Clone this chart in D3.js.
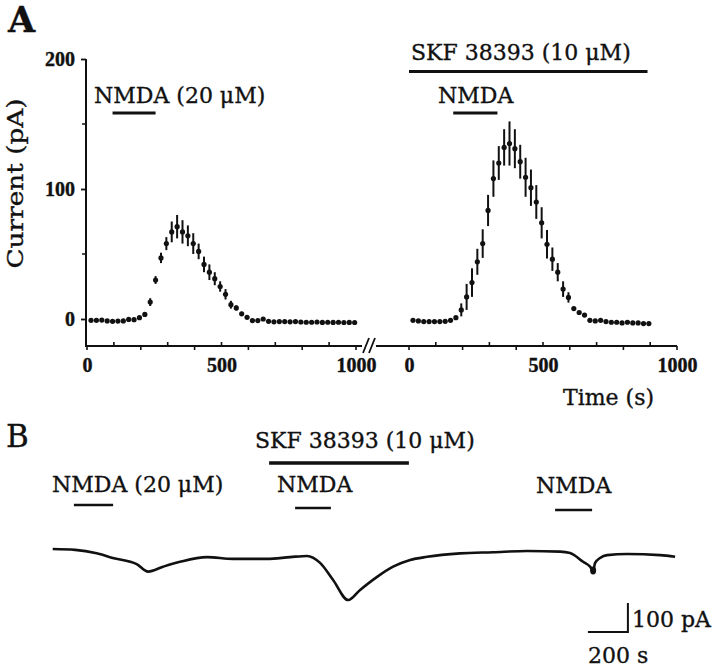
<!DOCTYPE html>
<html><head><meta charset="utf-8">
<script src="https://cdn.jsdelivr.net/npm/d3@7"></script>
<style>
body{margin:0;background:#fff}
text{font-family:"DejaVu Serif",serif;fill:#111;stroke:#111;stroke-width:0.35px}
text.tk{font-family:"Liberation Serif",serif;font-weight:bold;stroke-width:0.4px}
</style>
</head><body>
<svg id="chart" width="720" height="670"></svg>
<script>
// ---------- Panel A data (time s, current pA, SEM pA) ----------
const leftTime = [15,35,55,75,95,115,135,155,175,195,215,235,255,275,295,315,335,355,375,395,415,435,455,475,495,515,535,555,575,595,615,635,655,675,695,715,735,755,775,795,815,835,855,875,895,915,935,955,975,995];
const leftCurrent = [-1,-1,-0.8,-1.5,-1.8,-1.6,-1.5,-0.3,-0.5,1,3.5,13,30,47,58,67,71,67,64,58,52,42,36,31,25,19,11,8.5,4,1.3,-1.2,-1.2,0,-1.8,-2.2,-2,-2,-2.2,-2,-2.3,-2.5,-2.5,-2.3,-2.6,-2.5,-2.6,-2.5,-2.7,-2.6,-2.7];
const leftSEM = [0,0,0,0,0,0,0,0,0,0,1.5,3,3,4,5,8,9,9,8,8,6,6,6,5,4,4,3,2,1.5,0,0,0,0,0,0,0,0,0,0,0,0,0,0,0,0,0,0,0,0,0];

const rightTime = [15,35,55,75,95,115,135,155,175,195,215,235,255,275,295,315,335,355,375,395,415,435,455,475,495,515,535,555,575,595,615,635,655,675,695,715,735,755,775,795,815,835,855,875,895];
const rightCurrent = [-1,-1.5,-2,-2,-2,-2,-1.8,-1,1,7,17,28,44,58,83.5,108,120,132,135,131,121,109,101,90,74,57.5,46,36,23,16.6,8,5,3,-1,-1.5,-1,-2,-2.5,-2.5,-3,-2.5,-3,-3,-3.5,-3.5];
const rightSEM = [0,0,0,0,0,0,0,0,0,5,10,11,10,11,12,14,13,14,17,15,13,15,14,13,12,11,9,7,6,4,1.5,0,0,0,0,0,0,0,0,0,0,0,0,0,0];

const xTickValues = [0,100,200,300,400,500,600,700,800,900,1000];
const xTickLabels = [0,500,1000];
const yTickValues = [0,100,200];
const yMinorTicks = [50,150];

// drug application bars, panel A (s)
const nmdaBarLeft = [95,255];
const skfBarRight = [0,890];
const nmdaBarRight = [165,330];

// ---------- Panel B trace (time s, current pA) ----------
const traceTime = [0,112,220,300,420,477,552,637,772,902,1072,1187,1272,1337,1402,1477,1537,1622,1702,1787,1872,2037,2202,2372,2537,2587,2652,2687,2702,2712,2737,2772,2872,3037,3112];
const traceCurrent = [0,-3,-15,-31,-52,-78,-61,-44,-28,-34,-34,-28,-24,-48,-107,-176,-141,-96,-61,-38,-27,-15,-11,-7,-9,-14,-44,-61,-76,-48,-31,-21,-17,-21,-27];
const artifact = {t:2702, i:-74};
// application bars, panel B (s)
const nmdaBarsB = [[106,302],[1212,1391],[2512,2697]];
const skfBarB = [1082,1781];
// scale bar
const scaleBarTime = [2676,2876];   // 200 s
const scaleBarCurrent = [-186,-286]; // 100 pA

const svg = d3.select("#chart");
const ink = "#111";

// ---------- scales ----------
const xL = d3.scaleLinear().domain([0,1000]).range([87,356]);
const xR = d3.scaleLinear().domain([0,1000]).range([409,677]);
const y = d3.scaleLinear().domain([0,200]).range([319,59]);
const axisYpx = 346;

// ---------- Panel A ----------
const gA = svg.append("g");
gA.append("text").attr("x",8).attr("y",32).attr("font-size",35).attr("font-weight","bold").text("A");

// y axis
const yAxis = d3.axisLeft(y).tickValues(yTickValues).tickSize(5).tickPadding(6).tickFormat(d3.format("d"));
const gy = gA.append("g").attr("transform","translate(86,0)").call(yAxis);
gy.select(".domain").remove();
gy.selectAll(".tick line").attr("stroke",ink).attr("stroke-width",1.8);
gy.selectAll(".tick text").attr("class","tk").attr("font-size",20).attr("fill",ink);
gA.append("line").attr("x1",86).attr("x2",86).attr("y1",y(200)).attr("y2",axisYpx+1).attr("stroke",ink).attr("stroke-width",2);
gA.selectAll(".yminor").data(yMinorTicks).enter().append("line")
  .attr("x1",86).attr("x2",82).attr("y1",d=>y(d)).attr("y2",d=>y(d)).attr("stroke",ink).attr("stroke-width",1.5);

gA.append("text").attr("transform",`translate(23,${(97+270)/2}) rotate(-90)`)
  .attr("text-anchor","middle").attr("font-size",22)
  .attr("textLength",170).attr("lengthAdjust","spacingAndGlyphs").text("Current (pA)");

// x axes
function drawXAxis(x, x0, x1){
  gA.append("line").attr("x1",x0).attr("x2",x1).attr("y1",axisYpx).attr("y2",axisYpx).attr("stroke",ink).attr("stroke-width",2);
  gA.selectAll(null).data(xTickValues).enter().append("line")
    .attr("x1",d=>x(d)).attr("x2",d=>x(d))
    .attr("y1",axisYpx).attr("y2",d=> d%200===0 ? axisYpx+4 : axisYpx-4)
    .attr("stroke",ink).attr("stroke-width",1.6);
  const ax = d3.axisBottom(x).tickValues(xTickLabels).tickSize(0).tickPadding(0).tickFormat(d3.format("d"));
  const g = gA.append("g").attr("transform",`translate(0,${axisYpx+12})`).call(ax);
  g.select(".domain").remove();
  g.selectAll(".tick text").attr("class","tk").attr("font-size",20).attr("fill",ink).attr("dy","0.71em");
}
drawXAxis(xL, 86, 362);
drawXAxis(xR, 376, 677);
// axis break
[[363,369],[369,375]].forEach(p=>{
  gA.append("line").attr("x1",p[0]).attr("y1",axisYpx+7).attr("x2",p[1]).attr("y2",axisYpx-8).attr("stroke",ink).attr("stroke-width",1.8);
});
gA.append("text").attr("x",563).attr("y",405).attr("font-size",22).text("Time (s)");

// series
function drawSeries(x, times, vals, sems){
  const data = times.map((t,i)=>({t, v:vals[i], e:sems[i]}));
  gA.selectAll(null).data(data.filter(d=>d.e>0)).enter().append("line")
    .attr("x1",d=>x(d.t)).attr("x2",d=>x(d.t))
    .attr("y1",d=>y(d.v-d.e)).attr("y2",d=>y(d.v+d.e))
    .attr("stroke",ink).attr("stroke-width",2);
  gA.selectAll(null).data(data).enter().append("circle")
    .attr("cx",d=>x(d.t)).attr("cy",d=>y(d.v)).attr("r",2.6).attr("fill",ink);
}
drawSeries(xL, leftTime, leftCurrent, leftSEM);
drawSeries(xR, rightTime, rightCurrent, rightSEM);

// annotations panel A
gA.append("text").attr("x",94).attr("y",103).attr("font-size",22).text("NMDA (20 μM)");
gA.append("line").attr("x1",xL(nmdaBarLeft[0])).attr("x2",xL(nmdaBarLeft[1])).attr("y1",113).attr("y2",113).attr("stroke",ink).attr("stroke-width",3);
gA.append("text").attr("x",411).attr("y",60).attr("font-size",22).text("SKF 38393 (10 μM)");
gA.append("line").attr("x1",xR(skfBarRight[0])).attr("x2",xR(skfBarRight[1])).attr("y1",71.5).attr("y2",71.5).attr("stroke",ink).attr("stroke-width",3);
gA.append("text").attr("x",438).attr("y",103).attr("font-size",22).text("NMDA");
gA.append("line").attr("x1",xR(nmdaBarRight[0])).attr("x2",xR(nmdaBarRight[1])).attr("y1",113).attr("y2",113).attr("stroke",ink).attr("stroke-width",3);

// ---------- Panel B ----------
const gB = svg.append("g");
const xB = d3.scaleLinear().domain([0,100]).range([52.7,72.7]);   // 0.2 px per s
const yB = d3.scaleLinear().domain([0,-100]).range([549,578]);     // 0.29 px per pA
gB.append("text").attr("x",6).attr("y",447).attr("font-size",31).text("B");
gB.append("text").attr("x",255).attr("y",448).attr("font-size",22).text("SKF 38393 (10 μM)");
gB.append("line").attr("x1",xB(skfBarB[0])).attr("x2",xB(skfBarB[1])).attr("y1",463).attr("y2",463).attr("stroke",ink).attr("stroke-width",3.5);
gB.append("text").attr("x",52).attr("y",492).attr("font-size",22).text("NMDA (20 μM)");
gB.append("text").attr("x",277).attr("y",492).attr("font-size",22).text("NMDA");
gB.append("text").attr("x",536).attr("y",493).attr("font-size",22).text("NMDA");
const barY = [505,508,510];
gB.selectAll(null).data(nmdaBarsB).enter().append("line")
  .attr("x1",d=>xB(d[0])).attr("x2",d=>xB(d[1]))
  .attr("y1",(d,i)=>barY[i]).attr("y2",(d,i)=>barY[i])
  .attr("stroke",ink).attr("stroke-width",2.5);

const trace = traceTime.map((t,i)=>({t, i:traceCurrent[i]}));
gB.append("path").datum(trace)
  .attr("d", d3.line().x(d=>xB(d.t)).y(d=>yB(d.i)).curve(d3.curveMonotoneX))
  .attr("fill","none").attr("stroke",ink).attr("stroke-width",2.6).attr("stroke-linejoin","round");
gB.append("ellipse").attr("cx",xB(artifact.t)).attr("cy",yB(artifact.i)).attr("rx",3).attr("ry",4).attr("fill",ink);

// scale bar
gB.append("path")
  .attr("d",`M${xB(scaleBarTime[0])},${yB(scaleBarCurrent[1])}H${xB(scaleBarTime[1])}V${yB(scaleBarCurrent[0])}`)
  .attr("fill","none").attr("stroke",ink).attr("stroke-width",2);
gB.append("text").attr("x",xB(scaleBarTime[1])+4).attr("y",627).attr("font-size",22).text("100 pA");
gB.append("text").attr("x",xB(scaleBarTime[0])).attr("y",663).attr("font-size",22).text("200 s");
</script>
</body></html>
